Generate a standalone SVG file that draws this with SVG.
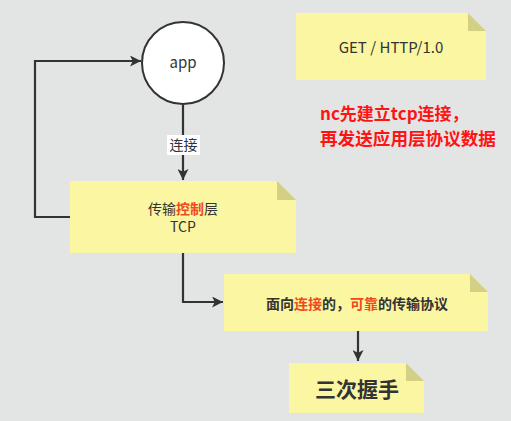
<svg xmlns="http://www.w3.org/2000/svg" width="511" height="421" viewBox="0 0 511 421">
<defs>
<marker id="ah" viewBox="0 0 10 10" refX="10" refY="5" markerWidth="11" markerHeight="11" markerUnits="userSpaceOnUse" orient="auto">
<path d="M0,0 L10,5 L0,10 L2.5,5 z" fill="#333"/>
</marker>
<style>
.note{fill:#fbf6a2;}
.fold{fill:#d3cf84;}
.edge{fill:none;stroke:#333;stroke-width:2.2;}
.t{font-family:"Microsoft YaHei","Noto Sans CJK SC",sans-serif;fill:#333;text-anchor:middle;}
.red{fill:#ee4a1e;}
</style>
</defs>
<rect width="511" height="421" fill="#e3e5e5"/>
<g id="edges">
<path class="edge" d="M70,217 H35 V61 H141" marker-end="url(#ah)"/>
<path class="edge" d="M183,105 V180" marker-end="url(#ah)"/>
<rect x="167" y="135" width="33" height="20" fill="#fff"/>
<text class="t" x="183.5" y="150" font-size="14">连接</text>
<path class="edge" d="M183,253 V302 H223" marker-end="url(#ah)"/>
<path class="edge" d="M358,331 V361" marker-end="url(#ah)"/>
</g>
<g id="app">
<circle cx="183" cy="63" r="41" fill="#fff" stroke="#333" stroke-width="2"/>
<text class="t" x="183" y="68" font-size="15" font-family="'Noto Sans',sans-serif">app</text>
</g>
<g id="get">
<path class="note" d="M296,13 H468 L486,31 V80 H296 Z"/>
<path class="fold" d="M468,13 L486,31 H468 Z"/>
<text class="t" x="391" y="53" font-size="15">GET / HTTP/1.0</text>
</g>
<g id="remark">
<text font-family="'Noto Sans CJK SC',sans-serif" font-weight="bold" font-size="17" fill="#ff1414" x="320" y="120">nc先建立tcp连接，</text>
<text font-family="'Noto Sans CJK SC',sans-serif" font-weight="bold" font-size="17.6" fill="#ff1414" x="320" y="145">再发送应用层协议数据</text>
</g>
<g id="tcp">
<path class="note" d="M70,181 H277 L296,200 V253 H70 Z"/>
<path class="fold" d="M277,181 L296,200 H277 Z"/>
<text class="t" x="183" y="214" font-size="14">传输<tspan class="red" font-weight="bold">控制</tspan>层</text>
<text class="t" x="183" y="232" font-size="14">TCP</text>
</g>
<g id="conn">
<path class="note" d="M224,274 H470 L488,292 V331 H224 Z"/>
<path class="fold" d="M470,274 L488,292 H470 Z"/>
<text class="t" x="357" y="309" font-size="14" font-weight="bold">面向<tspan class="red">连接</tspan>的，<tspan class="red">可靠</tspan>的传输协议</text>
</g>
<g id="handshake">
<path class="note" d="M289,363 H406 L424,381 V413 H289 Z"/>
<path class="fold" d="M406,363 L424,381 H406 Z"/>
<text class="t" x="357" y="397" font-size="21" font-weight="bold">三次握手</text>
</g>
</svg>
